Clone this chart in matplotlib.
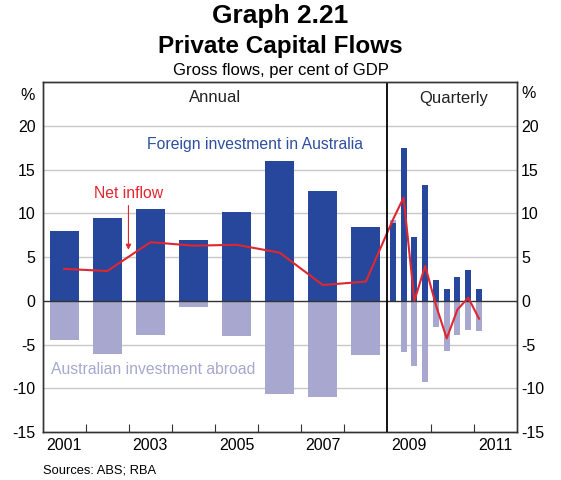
import matplotlib
matplotlib.use("Agg")
import matplotlib.pyplot as plt
import numpy as np

plt.rcParams['font.family'] = ['Liberation Sans', 'DejaVu Sans']

# ---- data ----
annual_years = ['2001', '2002', '2003', '2004', '2005', '2006', '2007', '2008']
annual_foreign = [8.0, 9.5, 10.5, 7.0, 10.2, 16.0, 12.6, 8.4]
annual_abroad = [-4.45, -6.05, -3.9, -0.75, -4.0, -10.65, -11.0, -6.15]
annual_net = [3.65, 3.4, 6.7, 6.3, 6.4, 5.5, 1.8, 2.2]

quarters = ['Mar-09', 'Jun-09', 'Sep-09', 'Dec-09', 'Mar-10', 'Jun-10', 'Sep-10', 'Dec-10', 'Mar-11']
quarterly_foreign = [8.85, 17.5, 7.3, 13.2, 2.4, 1.4, 2.75, 3.55, 1.4]
quarterly_abroad = [0.4, -5.8, -7.5, -9.3, -2.95, -5.7, -3.9, -3.35, -3.5]
quarterly_net = [9.25, 11.8, 0.0, 4.0, -0.5, -4.3, -1.0, 0.35, -2.05]

xtick_labels = ['2001', '2003', '2005', '2007', '2009', '2011']
yticks = [-15, -10, -5, 0, 5, 10, 15, 20]

# ---- style ----
DARK = '#27479c'
LIGHT = '#a7a7cf'
RED = '#e0262f'
GRID = '#c8c8c8'
TICKFS = 11.5
ANNFS = 11.3

fig = plt.figure(figsize=(5.61, 4.8), dpi=100)
ax = fig.add_axes([0.0761, 0.1, 0.845, 0.729])

xa = np.arange(len(annual_years)) + 0.5
xq = len(annual_years) + 0.125 + 0.25 * np.arange(len(quarters))

for y in yticks:
    if y in (-15, 0):
        continue
    ax.axhline(y, color=GRID, lw=1.0, zorder=0)

ax.bar(xa, annual_foreign, width=0.674, color=DARK, zorder=2)
ax.bar(xa, annual_abroad, width=0.674, color=LIGHT, zorder=2)

qf = np.array(quarterly_foreign)
qa = np.array(quarterly_abroad)
ax.bar(xq, qf, width=0.14, color=DARK, zorder=2)
ax.bar(xq, qa, width=0.14, bottom=np.where(qa > 0, qf, 0), color=LIGHT, zorder=2)

ax.axhline(0, color='#333333', lw=1.0, zorder=3)

xs = np.concatenate([xa, xq])
ys = np.concatenate([annual_net, quarterly_net])
ax.plot(xs, ys, color=RED, lw=1.5, zorder=4)

ax.axvline(8, color='black', lw=1.3, zorder=5)

ax.set_xlim(0, 11)
ax.set_ylim(-15, 25)

# x ticks: marks at boundaries, labels centred on years
ax.set_xticks([1, 2, 3, 4, 5, 6, 7, 9, 10])
ax.set_xticklabels([])
ax.tick_params(axis='x', which='major', direction='in', length=6, width=0.8, color='#333333')
ax.set_xticks([0.5, 2.5, 4.5, 6.5, 8.5, 10.5], minor=True)
ax.set_xticklabels(xtick_labels, minor=True, fontsize=TICKFS)
ax.tick_params(axis='x', which='minor', length=0, pad=4)

ax.set_yticks(yticks)
ax.set_yticklabels([str(v) for v in yticks], fontsize=TICKFS)
ax.tick_params(axis='y', length=0, pad=5)

ax2 = ax.twinx()
ax2.set_ylim(-15, 25)
ax2.set_yticks(yticks)
ax2.set_yticklabels([str(v) for v in yticks], fontsize=TICKFS)
ax2.tick_params(axis='y', length=0, pad=3)

for a in (ax, ax2):
    for s in a.spines.values():
        s.set_color('#333333')
        s.set_linewidth(1.0)

# annotations
ax.text(4.0, 23.2, 'Annual', ha='center', va='center', fontsize=12, color='#222222')
ax.text(9.53, 23.1, 'Quarterly', ha='center', va='center', fontsize=12, color='#222222')
ax.text(4.93, 17.9, 'Foreign investment in Australia', ha='center', va='center', fontsize=ANNFS, color='#2e4fa0')
ax.text(0.19, -7.84, 'Australian investment abroad', ha='left', va='center', fontsize=ANNFS, color=LIGHT)
ax.text(1.99, 12.3, 'Net inflow', ha='center', va='center', fontsize=ANNFS, color=RED)
ax.annotate('', xy=(1.99, 5.5), xytext=(1.99, 11.2),
            arrowprops=dict(arrowstyle='-|>', color=RED, lw=0.8, mutation_scale=8))

ax.text(-0.18, 23.5, '%', ha='right', va='center', fontsize=TICKFS, clip_on=False)
ax.text(11.1, 23.7, '%', ha='left', va='center', fontsize=TICKFS, clip_on=False)

fig.text(0.5, 1 - 16 / 480, 'Graph 2.21', ha='center', va='center', fontsize=19, fontweight='bold')
fig.text(0.5, 1 - 46 / 480, 'Private Capital Flows', ha='center', va='center', fontsize=17.5, fontweight='bold')
fig.text(0.5, 1 - 71 / 480, 'Gross flows, per cent of GDP', ha='center', va='center', fontsize=12)
fig.text(42.7 / 561, 1 - 470.5 / 480, 'Sources: ABS; RBA', ha='left', va='center', fontsize=9.3)

fig.savefig('out.png', dpi=100)
